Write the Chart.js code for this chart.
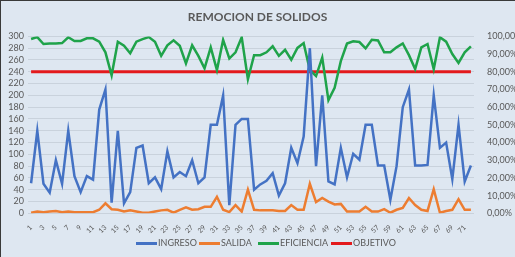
<!DOCTYPE html>
<html>
<head>
<meta charset="utf-8">
<script src="https://cdn.jsdelivr.net/npm/chart.js@4.4.1/dist/chart.umd.min.js"></script>
<style>
  html, body { margin: 0; padding: 0; background: #dee7f1; }
  canvas { display: block; }
</style>
</head>
<body>
<canvas id="chart" width="515" height="257"></canvas>
<script>
// Datos del gráfico
const dias = ['1','2','3','4','5','6','7','8','9','10','11','12','13','14','15','16','17','18',
  '19','20','21','22','23','24','25','26','27','28','29','30','31','32','33','34','35','36',
  '37','38','39','40','41','42','43','44','45','46','47','48','49','50','51','52','53','54',
  '55','56','57','58','59','60','61','62','63','64','65','66','67','68','69','70','71','72'];

const ingreso = [51,140,50,35,90,50,140,63,36,63,57,176,210,18,140,
  17,36,111,115,51,61,41,105,61,70,63,90,51,61,
  150,150,200,14,150,160,160,40,49,55,68,30,51,111,
  85,130,280,80,200,54,49,111,61,101,91,150,150,81,81,
  23,80,180,210,81,81,82,200,111,120,58,150,54,81];

const salida = [1,3,2,3,4,2,3,2,2,2,2,6,17,7,6,
  3,5,3,1,1,3,5,6,1,6,10,6,7,11,
  11,28,6,2,14,3,40,6,5,5,5,4,4,14,
  6,6,50,19,26,20,15,16,3,3,3,11,3,3,7,
  1,6,9,26,14,6,4,41,1,4,6,24,6,6];

const eficiencia = [98.5,99.6,95.7,96,96,96.2,99.5,97.4,97.4,98.9,98.9,97,91,78,97,
  94.7,90.5,97,98.5,99.6,97,89,95,97.8,94.7,84.7,95,89,82,
  93.8,81,98,87.5,91,99.5,75.8,89.4,89.4,91,94.4,89,92.4,86.8,
  93.5,96.2,81,77.6,88,64,71,86,96,97.2,96.8,93.2,98.1,97.7,91,
  91,93.8,96,89.4,81.5,93.8,95.7,81.5,99.5,97,90,85,91,94.4];

const objetivo = [80,80,80,80,80,80,80,80,80,80,80,80,80,80,80,80,80,80,
  80,80,80,80,80,80,80,80,80,80,80,80,80,80,80,80,80,80,
  80,80,80,80,80,80,80,80,80,80,80,80,80,80,80,80,80,80,
  80,80,80,80,80,80,80,80,80,80,80,80,80,80,80,80,80,80];

const FONT = 'Lato, "Liberation Sans", sans-serif';
const GRIS = '#595959';

// Posición x de cada entrada de la leyenda
const LEYENDA_X = [136, 199, 258, 331];
const LEYENDA_Y = 243.5;

// Fondo, marco y leyenda
const fondo = {
  id: 'fondo',
  beforeDraw(chart) {
    const ctx = chart.ctx;
    ctx.save();
    ctx.fillStyle = '#dee7f1';
    ctx.fillRect(0, 0, chart.width, chart.height);
    ctx.fillStyle = '#3a3a3a';
    ctx.fillRect(0, 0, chart.width, 1);
    ctx.fillRect(0, 0, 1, chart.height);
    ctx.restore();
  },
  afterDraw(chart) {
    const ctx = chart.ctx;
    ctx.save();
    ctx.font = '9px ' + FONT;
    ctx.textBaseline = 'middle';
    chart.data.datasets.forEach(function(ds, i) {
      const x = LEYENDA_X[i];
      ctx.fillStyle = ds.borderColor;
      ctx.fillRect(x, LEYENDA_Y - 1.5, 21, 3);
      ctx.fillStyle = GRIS;
      ctx.fillText(ds.label, x + 22, LEYENDA_Y);
    });
    ctx.restore();
  }
};

function serie(label, data, color, eje, ancho) {
  return {
    label: label,
    data: data,
    borderColor: color,
    backgroundColor: color,
    borderWidth: ancho,
    pointRadius: 0,
    tension: 0,
    fill: false,
    yAxisID: eje
  };
}

new Chart(document.getElementById('chart'), {
  type: 'line',
  data: {
    labels: dias,
    datasets: [
      serie('INGRESO', ingreso, '#4472c4', 'y', 2.5),
      serie('SALIDA', salida, '#ed7d31', 'y', 2.5),
      serie('EFICIENCIA', eficiencia, '#1fa34a', 'y1', 2.5),
      serie('OBJETIVO', objetivo, '#e31a1c', 'y1', 3)
    ]
  },
  options: {
    responsive: false,
    animation: false,
    layout: { padding: { top: 0, bottom: 20, left: 0, right: 0 } },
    plugins: {
      title: {
        display: true,
        text: 'REMOCION DE SOLIDOS',
        color: GRIS,
        font: { family: FONT, size: 12, weight: 'bold' },
        padding: { top: 10, bottom: 12 }
      },
      legend: { display: false },
      tooltip: { enabled: false }
    },
    scales: {
      x: {
        offset: true,
        grid: { display: false },
        border: { display: false },
        ticks: {
          autoSkip: false,
          maxRotation: 45,
          minRotation: 45,
          padding: 2,
          color: GRIS,
          font: { family: FONT, size: 7 },
          callback: function(v, i) { return i % 2 === 0 ? dias[i] : ''; }
        }
      },
      y: {
        position: 'left',
        min: 0,
        max: 300,
        afterFit: function(s) { s.width = 28; },
        grid: { color: '#c9d2dc', drawTicks: false },
        border: { display: false },
        ticks: {
          stepSize: 20,
          autoSkip: false,
          padding: 4,
          color: GRIS,
          font: { family: FONT, size: 9 }
        }
      },
      y1: {
        position: 'right',
        min: 0,
        max: 100,
        afterFit: function(s) { s.width = 41; },
        grid: { display: false },
        border: { display: false },
        ticks: {
          stepSize: 10,
          autoSkip: false,
          padding: 5,
          color: GRIS,
          font: { family: FONT, size: 9 },
          callback: function(v) { return v + ',00%'; }
        }
      }
    }
  },
  plugins: [fondo]
});
</script>
</body>
</html>
